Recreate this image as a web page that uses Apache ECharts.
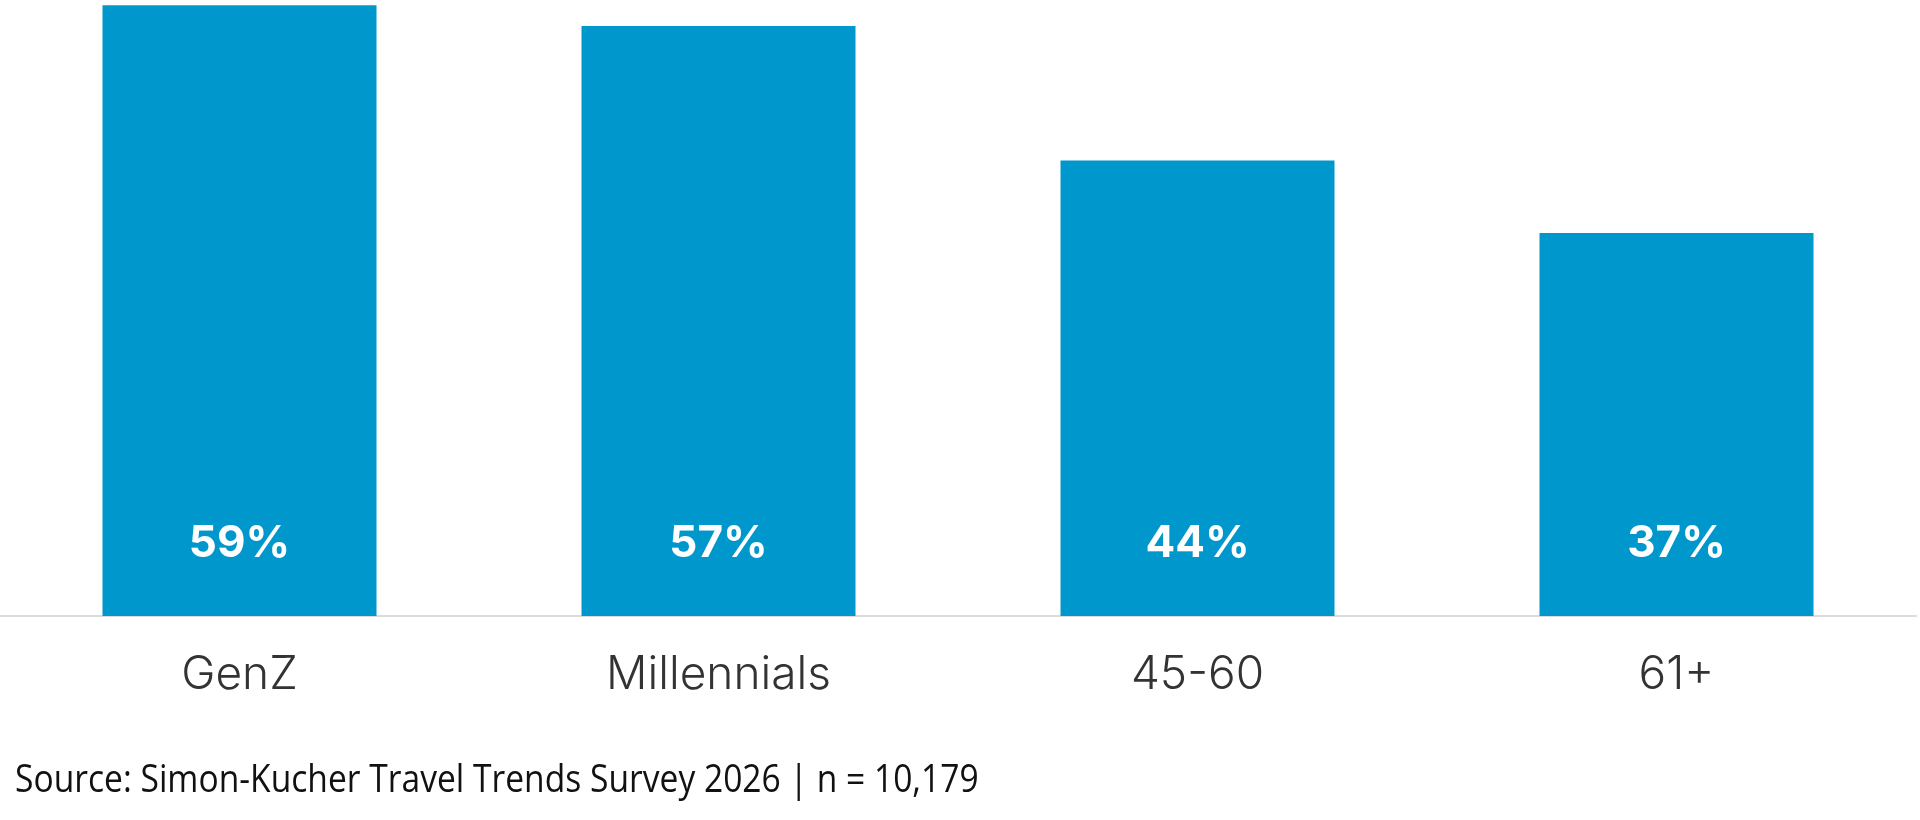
<!DOCTYPE html>
<html>
<head>
<meta charset="utf-8">
<script src="https://cdn.jsdelivr.net/npm/echarts@6/dist/echarts.min.js"></script>
<style>
html,body{margin:0;padding:0;background:#fff;}
#chart{width:1920px;height:820px;}
</style>
</head>
<body>
<div id="chart"></div>
<script>
const categories = ['GenZ', 'Millennials', '45-60', '61+'];
const values = [59, 57, 44, 37];
const sourceText = 'Source: Simon-Kucher Travel Trends Survey 2026 | n = 10,179';

const chart = echarts.init(document.getElementById('chart'));
chart.setOption({
  animation: false,
  backgroundColor: '#ffffff',
  grid: { left: 0, right: 4, top: 0, bottom: 204, containLabel: false },
  xAxis: {
    type: 'category',
    data: categories,
    axisLine: { show: true, lineStyle: { color: '#dcdcdc', width: 2 } },
    axisTick: { show: false },
    axisLabel: {
      margin: 36,
      fontFamily: 'Inter, Roboto, sans-serif',
      fontSize: 46,
      fontWeight: 350,
      color: '#333333',
      lineHeight: 46
    }
  },
  yAxis: {
    type: 'value',
    min: 0,
    max: 59.5,
    show: false,
    splitLine: { show: false }
  },
  series: [{
    type: 'bar',
    data: values,
    barWidth: 274,
    itemStyle: { color: '#0097CC' },
    label: {
      show: true,
      position: 'insideBottom',
      distance: 50,
      formatter: '{c}%',
      fontFamily: 'Inter, Roboto, sans-serif',
      fontWeight: 700,
      fontSize: 44,
      lineHeight: 44,
      color: '#ffffff'
    }
  }],
  graphic: [{
    type: 'text',
    x: 15,
    y: 762,
    scaleX: 0.884,
    style: {
      text: sourceText,
      font: '38px "Open Sans", sans-serif',
      fill: '#111111',
      verticalAlign: 'top'
    }
  }]
});
</script>
</body>
</html>
